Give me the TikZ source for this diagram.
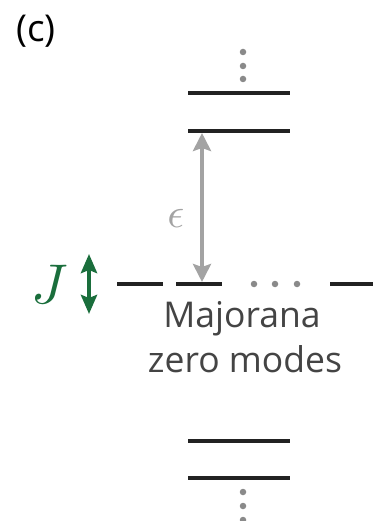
\documentclass[tikz,border=0pt]{standalone}
\usepackage{fontspec}
\setmainfont{Open Sans}
\usetikzlibrary{arrows.meta}
\definecolor{lvl}{HTML}{222222}
\definecolor{dotc}{HTML}{8A8A8A}
\definecolor{arrg}{HTML}{A3A3A3}
\definecolor{jgreen}{HTML}{1A6E3C}
\definecolor{txt}{HTML}{444444}
\begin{document}
\begin{tikzpicture}[x=1pt,y=-1pt,
  level/.style={line width=3.5pt,color=lvl},
  dotmark/.style={circle,fill=dotc,inner sep=0pt,minimum size=6.5pt},
  lbl/.style={text=txt,font=\fontsize{35.5}{40}\selectfont,inner sep=0pt}]
\useasboundingbox (0,0) rectangle (373,521);
\node[anchor=north west,inner sep=0pt,font=\fontsize{37}{40}\selectfont,text=black] (c) at (16,15) {(c)};
% top dots
\node[dotmark] (d1) at (243,52) {};
\node[dotmark] (d2) at (243,66) {};
\node[dotmark] (d3) at (243,79) {};
% upper levels
\coordinate (u1a) at (188,93); \coordinate (u1b) at (290,93);
\coordinate (u2a) at (188,131); \coordinate (u2b) at (290,131);
\draw[level] (u1a) -- (u1b);
\draw[level] (u2a) -- (u2b);
% zero modes row
\coordinate (m1a) at (117,284); \coordinate (m1b) at (163,284);
\coordinate (m2a) at (176,284); \coordinate (m2b) at (222,284);
\coordinate (m3a) at (330,284); \coordinate (m3b) at (373,284);
\draw[level] (m1a) -- (m1b);
\draw[level] (m2a) -- (m2b);
\draw[level] (m3a) -- (m3b);
\node[dotmark] (e1) at (254,284) {};
\node[dotmark] (e2) at (275,284) {};
\node[dotmark] (e3) at (297,284) {};
% epsilon arrow
\coordinate (at) at (202,133);
\coordinate (ab) at (202,282);
\draw[arrg,line width=4.5pt,{Stealth[length=18pt,width=18pt,inset=3pt]}-{Stealth[length=18pt,width=18pt,inset=3pt]}] (at) -- (ab);
\node[text=arrg,scale=4.2] (eps) at (176,218) {$\epsilon$};
% J
\node[text=jgreen,scale=5.6] (J) at (50,284) {$J$};
\coordinate (jt) at (89,254); \coordinate (jb) at (89,314);
\draw[jgreen,line width=4.5pt,{Stealth[length=19pt,width=16pt,inset=3pt]}-{Stealth[length=19pt,width=16pt,inset=3pt]}] (jt) -- (jb);
% labels
\node[lbl,anchor=base] (maj) at (242,327) {Majorana};
\node[lbl,anchor=base] (zm) at (245,372) {zero modes};
% lower levels
\coordinate (l1a) at (188,441); \coordinate (l1b) at (290,441);
\coordinate (l2a) at (188,478); \coordinate (l2b) at (290,478);
\draw[level] (l1a) -- (l1b);
\draw[level] (l2a) -- (l2b);
\node[dotmark] (f1) at (243,492) {};
\node[dotmark] (f2) at (243,506) {};
\node[dotmark] (f3) at (243,520) {};
\end{tikzpicture}
\end{document}
